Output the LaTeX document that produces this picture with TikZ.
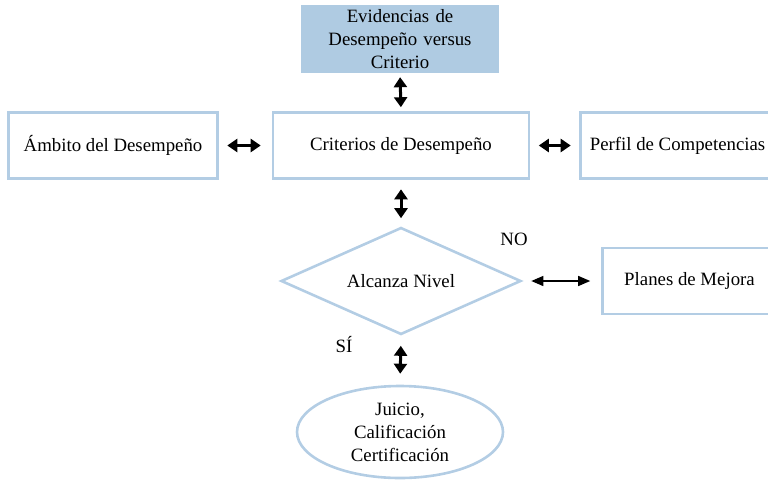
\documentclass[tikz,border=0pt]{standalone}
\usepackage{fontspec}
\setmainfont{Liberation Serif}
\usetikzlibrary{shapes.geometric,arrows.meta}
\definecolor{lineblue}{HTML}{B3CDE4}
\definecolor{fillblue}{HTML}{AFCBE2}

\begin{document}
\begin{tikzpicture}[x=1pt, y=-1pt, font=\fontsize{18.8}{23}\selectfont, text centered]

%STYLE SETTINGS
\tikzstyle{box}=[draw=lineblue, line width=2.6pt, minimum height=66pt, inner sep=0pt]
\tikzstyle{twoway}=[{Triangle[width=13pt,length=10pt]}-{Triangle[width=13pt,length=10pt]}, line width=3pt]
\tikzstyle{thinway}=[{Triangle[width=10pt,length=12pt]}-{Triangle[width=10pt,length=12pt]}, line width=1.3pt]

\clip (0,0) rectangle (768,482);

%NODES
\node[fill=fillblue, minimum width=198pt, minimum height=68pt, inner sep=0pt, text width=190pt] (evid) at (400,39) {Evidencias de\\ Desempeño versus\\ Criterio};
\node[box, minimum width=209pt] (ambito) at (113,145.5) {Ámbito del Desempeño};
\node[box, minimum width=256pt] (crit) at (401,145.5) {Criterios de Desempeño};
\node[box, minimum width=194pt] (perfil) at (677.5,145.5) {Perfil de Competencias};
\node[draw=lineblue, line width=2.6pt, shape=diamond, aspect=2.22, minimum width=240pt, minimum height=107pt, inner sep=0pt] (nivel) at (401,281) {Alcanza Nivel};
\node[box, minimum width=174pt] (planes) at (689.5,281) {Planes de Mejora};
\node[draw=lineblue, line width=2.6pt, shape=ellipse, minimum width=206pt, minimum height=92pt, inner sep=0pt, text width=128pt] (juicio) at (400,432) {Juicio,\\ Calificación\\ Certificación};
\node (no) at (514,239) {NO};
\node (si) at (344,345) {SÍ};

%ARROWS
\draw[twoway, shorten <=4pt, shorten >=4pt] (evid.south) -- (crit.north);
\draw[twoway, shorten <=8.5pt, shorten >=11pt] (ambito.east) -- (crit.west);
\draw[twoway, shorten <=8.5pt, shorten >=8.5pt] (crit.east) -- (perfil.west);
\draw[twoway, shorten <=9.5pt, shorten >=8pt] (crit.south) -- (nivel.north);
\draw[twoway, shorten <=10pt, shorten >=11pt] (nivel.south) -- (juicio.north);
\draw[thinway, shorten <=9pt, shorten >=11pt] (nivel.east) -- (planes.west);

\end{tikzpicture}
\end{document}
